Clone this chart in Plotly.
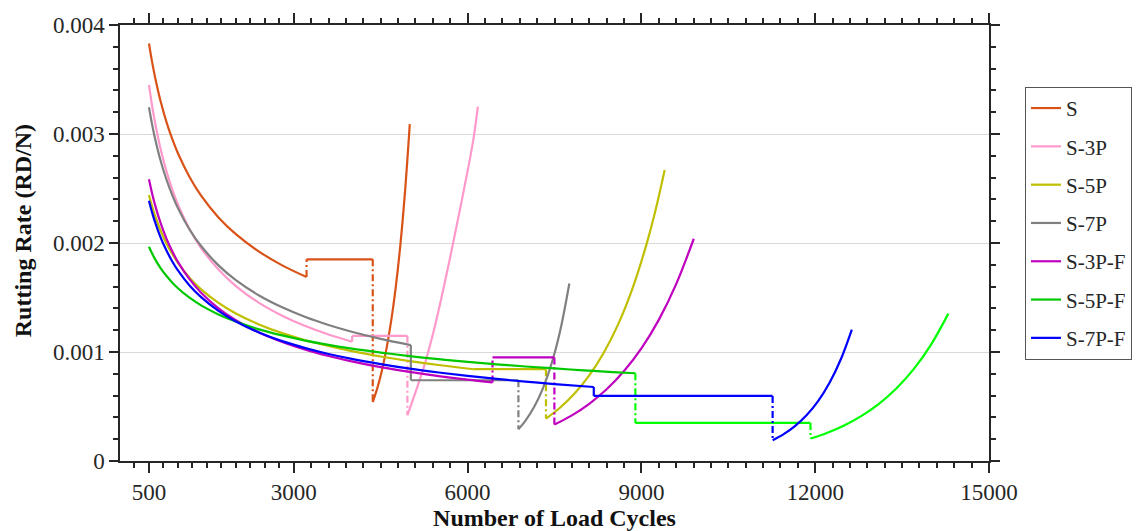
import plotly.graph_objects as go

# ---------------- data ----------------
series_names = ["S", "S-3P", "S-5P", "S-7P", "S-3P-F", "S-5P-F", "S-7P-F"]

# S
S_dec_n = [500, 550, 600, 700, 800, 900, 1000, 1200, 1400, 1700, 2000, 2400, 2800, 3220]
S_dec_r = [0.003830, 0.003673, 0.003535, 0.003302, 0.003114, 0.002957, 0.002823, 0.002606,
           0.002434, 0.002235, 0.002081, 0.001921, 0.001795, 0.001688]
S_flat_n = [3220, 4363]
S_flat_r = [0.00185, 0.00185]
S_rise_n = [4363, 4440, 4520, 4600, 4680, 4760, 4840, 4920, 5002]
S_rise_r = [0.00054, 0.000666, 0.000829, 0.001031, 0.001283, 0.001596, 0.001986, 0.002471, 0.00309]

# S-3P
P3_dec_n = [500, 550, 600, 700, 800, 900, 1000, 1200, 1400, 1700, 2000, 2400, 2800, 3200, 3600, 4007]
P3_dec_r = [0.003450, 0.003273, 0.003120, 0.002865, 0.002662, 0.002494, 0.002353, 0.002128,
            0.001954, 0.001756, 0.001605, 0.001451, 0.001333, 0.001238, 0.001160, 0.001094]
P3_flat_n = [4007, 4961]
P3_flat_r = [0.001148, 0.001148]
P3_rise_n = [4961, 5100, 5250, 5400, 5550, 5700, 5850, 6000, 6100, 6177]
P3_rise_r = [0.00042, 0.00063, 0.00087, 0.00116, 0.00150, 0.00187, 0.00226, 0.00266, 0.00295, 0.00325]

# S-5P
P5_dec_n = [500, 550, 600, 700, 800, 900, 1000, 1200, 1400, 1700, 2000, 2400, 2800, 3200,
            3600, 4000, 4500, 5000, 5500, 6106]
P5_dec_r = [0.002440, 0.002343, 0.002258, 0.002115, 0.001998, 0.001901, 0.001818, 0.001682,
            0.001575, 0.001451, 0.001354, 0.001253, 0.001173, 0.001108, 0.001055, 0.001008,
            0.000959, 0.000917, 0.000881, 0.000842]
P5_flat_n = [6106, 7353]
P5_flat_r = [0.000842, 0.000842]
P5_rise_n = [7353, 7600, 7850, 8100, 8350, 8600, 8850, 9100, 9250, 9402]
P5_rise_r = [0.000389, 0.000491, 0.000621, 0.000785, 0.000993, 0.001256, 0.001589, 0.002010,
             0.002314, 0.002669]

# S-7P
P7_dec_n = [500, 550, 600, 700, 800, 900, 1000, 1200, 1400, 1700, 2000, 2400, 2800, 3200,
            3600, 4000, 4500, 5020]
P7_dec_r = [0.003245, 0.003099, 0.002971, 0.002757, 0.002585, 0.002442, 0.002320, 0.002124,
            0.001972, 0.001795, 0.001659, 0.001519, 0.001410, 0.001321, 0.001248, 0.001186,
            0.001120, 0.001063]
P7_flat_n = [5020, 6877]
P7_flat_r = [0.000741, 0.000741]
P7_rise_n = [6877, 7000, 7150, 7300, 7450, 7600, 7756]
P7_rise_r = [0.000291, 0.000370, 0.000497, 0.000667, 0.000895, 0.001200, 0.001629]

# S-3P-F
P3F_dec_n = [500, 550, 600, 700, 800, 900, 1000, 1200, 1400, 1700, 2000, 2400, 2800, 3200,
             3600, 4000, 4500, 5000, 5500, 6000, 6430]
P3F_dec_r = [0.002584, 0.002464, 0.002359, 0.002184, 0.002043, 0.001926, 0.001827, 0.001668,
             0.001544, 0.001401, 0.001292, 0.001179, 0.001092, 0.001021, 0.000963, 0.000914,
             0.000861, 0.000817, 0.000779, 0.000746, 0.000721]
P3F_flat_n = [6430, 7498]
P3F_flat_r = [0.00095, 0.00095]
P3F_rise_n = [7498, 7800, 8100, 8400, 8700, 9000, 9300, 9600, 9904]
P3F_rise_r = [0.000334, 0.000419, 0.000525, 0.000658, 0.000825, 0.001033, 0.001295, 0.001623,
              0.002039]

# S-5P-F
P5F_dec_n = [500, 550, 600, 700, 800, 900, 1000, 1200, 1400, 1700, 2000, 2400, 2800, 3200,
             3600, 4000, 4500, 5000, 5500, 6000, 6500, 7000, 7500, 8000, 8500, 8896]
P5F_dec_r = [0.001965, 0.001908, 0.001857, 0.001770, 0.001699, 0.001638, 0.001585, 0.001498,
             0.001428, 0.001345, 0.001279, 0.001208, 0.001152, 0.001105, 0.001066, 0.001031,
             0.000995, 0.000962, 0.000934, 0.000910, 0.000887, 0.000867, 0.000849, 0.000832,
             0.000816, 0.000805]
P5F_flat_n = [8896, 11919]
P5F_flat_r = [0.000349, 0.000349]
P5F_rise_n = [11919, 12200, 12500, 12800, 13100, 13400, 13700, 14000, 14298]
P5F_rise_r = [0.000206, 0.000257, 0.000326, 0.000414, 0.000524, 0.000665, 0.000843, 0.001068,
              0.001352]

# S-7P-F
P7F_dec_n = [500, 550, 600, 700, 800, 900, 1000, 1200, 1400, 1700, 2000, 2400, 2800, 3200,
             3600, 4000, 4500, 5000, 5500, 6000, 6500, 7000, 7500, 8178]
P7F_dec_r = [0.002388, 0.002288, 0.002200, 0.002052, 0.001933, 0.001833, 0.001748, 0.001610,
             0.001503, 0.001377, 0.001280, 0.001179, 0.001100, 0.001036, 0.000982, 0.000937,
             0.000889, 0.000847, 0.000812, 0.000781, 0.000753, 0.000728, 0.000706, 0.000679]
P7F_flat_n = [8178, 11265]
P7F_flat_r = [0.000597, 0.000597]
P7F_rise_n = [11265, 11450, 11650, 11850, 12050, 12250, 12450, 12632]
P7F_rise_r = [0.00019, 0.000244, 0.000320, 0.000419, 0.000549, 0.000720, 0.000943, 0.001206]

x_ticks = [500, 3000, 6000, 9000, 12000, 15000]
x_tick_text = ["500", "3000", "6000", "9000", "12000", "15000"]
y_ticks = [0, 0.001, 0.002, 0.003, 0.004]
y_tick_text = ["0", "0.001", "0.002", "0.003", "0.004"]
x_minor = [250, 750, 1000, 1250, 1500, 1750, 2000, 2250, 2500, 2750] + \
          [v for v in range(3300, 15000, 300) if v % 3000 != 0]
y_minor = [v / 10000 for v in range(2, 40, 2) if v % 10 != 0]

x_title = "Number of Load Cycles"
y_title = "Rutting Rate (RD/N)"

# ---------------- styles ----------------
colors = {
    "S": ("#D95319", "#D95319"),
    "S-3P": ("#FF99CC", "#FF99CC"),
    "S-5P": ("#BFBF00", "#BFBF00"),
    "S-7P": ("#808080", "#808080"),
    "S-3P-F": ("#BF00BF", "#BF00BF"),
    "S-5P-F": ("#00C800", "#00FF00"),
    "S-7P-F": ("#0000FF", "#0000FF"),
}
connectors = {
    "S": ("dd", "dd"),
    "S-3P": ("solid", "dd"),
    "S-5P": ("solid", "dd"),
    "S-7P": ("solid", "dd"),
    "S-3P-F": ("dd", "dd"),
    "S-5P-F": ("dd", "dd"),
    "S-7P-F": ("solid", "dd"),
}
data = {
    "S": (S_dec_n, S_dec_r, S_flat_n, S_flat_r, S_rise_n, S_rise_r),
    "S-3P": (P3_dec_n, P3_dec_r, P3_flat_n, P3_flat_r, P3_rise_n, P3_rise_r),
    "S-5P": (P5_dec_n, P5_dec_r, P5_flat_n, P5_flat_r, P5_rise_n, P5_rise_r),
    "S-7P": (P7_dec_n, P7_dec_r, P7_flat_n, P7_flat_r, P7_rise_n, P7_rise_r),
    "S-3P-F": (P3F_dec_n, P3F_dec_r, P3F_flat_n, P3F_flat_r, P3F_rise_n, P3F_rise_r),
    "S-5P-F": (P5F_dec_n, P5F_dec_r, P5F_flat_n, P5F_flat_r, P5F_rise_n, P5F_rise_r),
    "S-7P-F": (P7F_dec_n, P7F_dec_r, P7F_flat_n, P7F_flat_r, P7F_rise_n, P7F_rise_r),
}

LW = 2.2
DASHDOT = "7px,3px,2px,3px"
FONT = "Liberation Serif, Times New Roman, serif"

fig = go.Figure()


def seg(x, y, color, name, legend=False, dash="solid", shape="linear"):
    fig.add_trace(go.Scatter(
        x=x, y=y, mode="lines", name=name, legendgroup=name, showlegend=legend,
        line=dict(color=color, width=LW, dash=dash, shape=shape, smoothing=1.0),
        hoverinfo="skip"))


for name in series_names:
    dn, dr, fn, fr, rn, rr = data[name]
    c1, c2 = colors[name]
    k1, k2 = connectors[name]
    seg(dn, dr, c1, name, legend=True, shape="spline")
    if k1 == "solid":
        seg([dn[-1], fn[0]], [dr[-1], fr[0]], c1, name)
        seg(fn, fr, c1, name)
    else:
        seg([dn[-1], fn[0]], [dr[-1], fr[0]], c2, name, dash=DASHDOT)
        seg(fn, fr, c2, name)
    seg([fn[-1], rn[0]], [fr[-1], rr[0]], c2, name, dash=DASHDOT)
    seg(rn, rr, c2, name, shape="spline")

axis_common = dict(
    showline=True, linecolor="#262626", linewidth=1.5, mirror="ticks",
    ticks="outside", tickcolor="#262626", tickwidth=1.5, zeroline=False,
    tickfont=dict(family=FONT, size=23, color="#262626"),
)

fig.update_xaxes(
    range=[0, 15000], tickmode="array", tickvals=x_ticks, ticktext=x_tick_text,
    ticklen=10, showgrid=False,
    minor=dict(tickmode="array", tickvals=x_minor, ticks="outside", ticklen=5,
               tickwidth=1.5, tickcolor="#262626", showgrid=False),
    title=dict(text=x_title, standoff=8,
               font=dict(family=FONT, size=24, color="#111111", weight="bold")),
    **axis_common)

fig.update_yaxes(
    range=[0, 0.004], tickmode="array", tickvals=y_ticks, ticktext=y_tick_text,
    ticklen=9, showgrid=True, gridcolor="#D9D9D9", gridwidth=1.3,
    minor=dict(tickmode="array", tickvals=y_minor, ticks="outside", ticklen=5,
               tickwidth=1.5, tickcolor="#262626", showgrid=False),
    **axis_common)

fig.add_annotation(
    text=y_title, textangle=-90, xref="paper", yref="paper",
    x=-0.1116, y=0.527, xanchor="center", yanchor="middle", showarrow=False,
    font=dict(family=FONT, size=24, color="#111111", weight="bold"))

fig.update_layout(
    width=1139, height=531,
    margin=dict(l=120, r=150, t=25, b=70, autoexpand=False),
    paper_bgcolor="white", plot_bgcolor="white",
    font=dict(family=FONT, color="#262626"),
    legend=dict(
        x=1.0414, y=0.858, xanchor="left", yanchor="top",
        bordercolor="#555555", borderwidth=1, bgcolor="white",
        font=dict(family=FONT, size=21, color="#262626"),
        tracegroupgap=8, itemwidth=30,
    ),
    showlegend=True,
)

fig.write_html("out.html")
